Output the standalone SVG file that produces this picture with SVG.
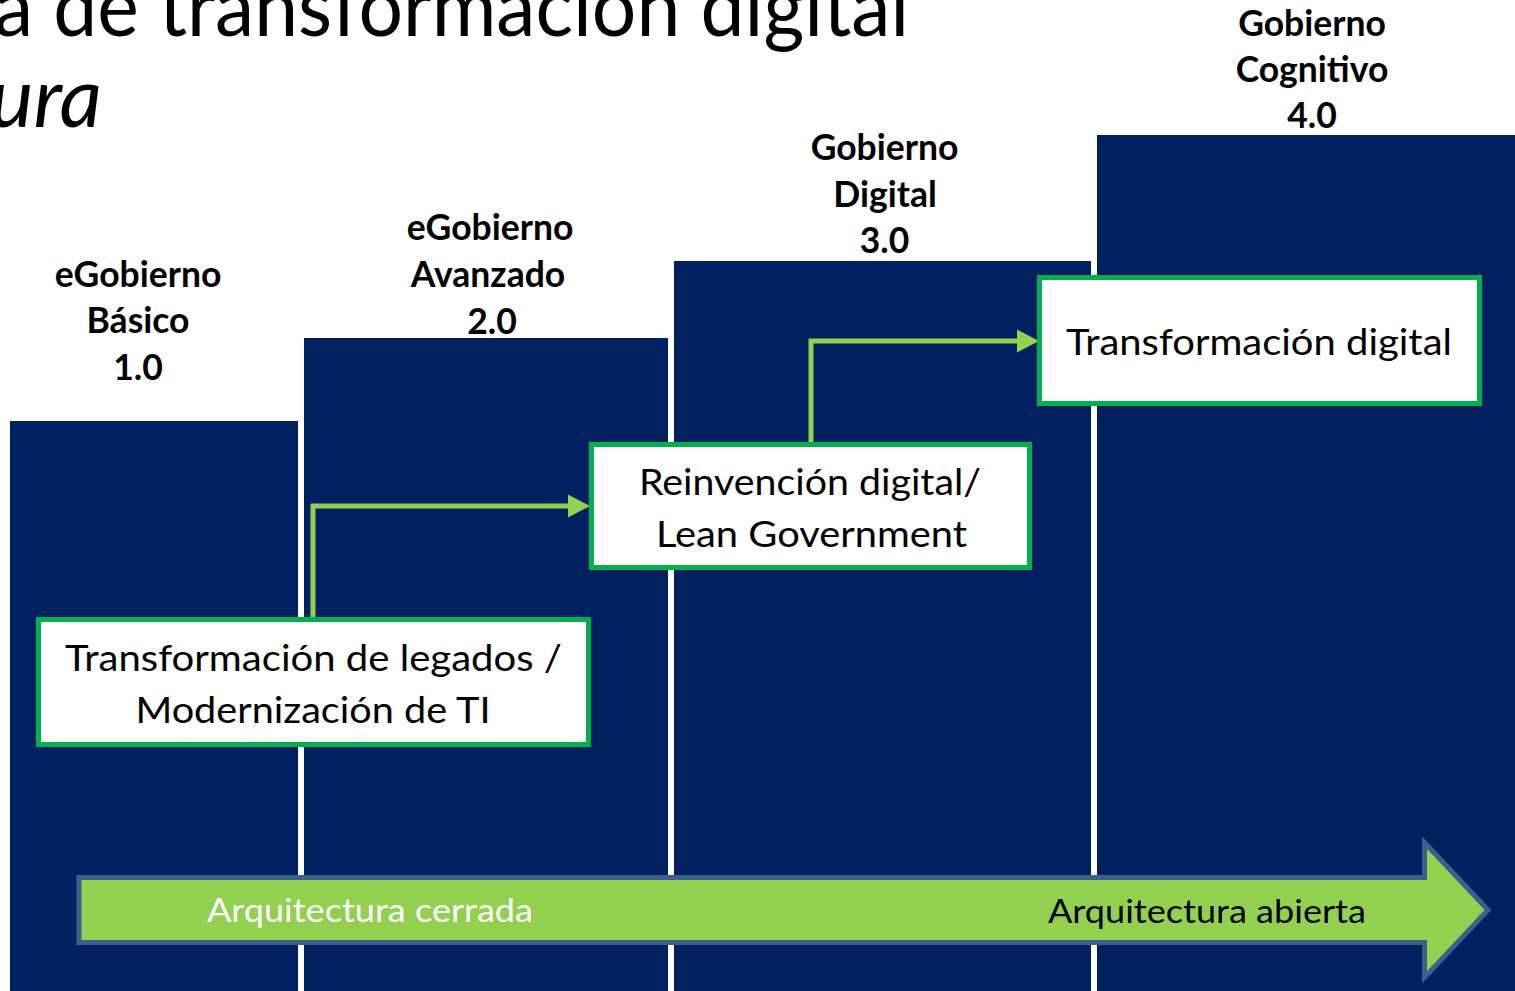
<svg xmlns="http://www.w3.org/2000/svg" width="1515" height="991" viewBox="0 0 1515 991">
<style>
.col{fill:#002060;}
.hdr{font-family:Lato,"Liberation Sans",sans-serif;font-weight:bold;font-size:35.5px;fill:#000;text-anchor:middle;}
.box{fill:#fff;stroke:#00B050;stroke-width:5;}
.bt{font-family:Lato,"Liberation Sans",sans-serif;font-size:37.5px;fill:#000;text-anchor:middle;}
.conn{fill:none;stroke:#92D050;stroke-width:5;}
.title{font-family:Lato,"Liberation Sans",sans-serif;font-size:83px;fill:#000;}
.at{font-family:Lato,"Liberation Sans",sans-serif;font-size:32px;text-anchor:middle;}
</style>
<defs>
<marker id="ah" markerUnits="userSpaceOnUse" markerWidth="24" markerHeight="24" refX="0" refY="11.5" orient="auto">
<path d="M0,0 L22,11.5 L0,23 Z" fill="#92D050"/>
</marker>
</defs>
<rect width="1515" height="991" fill="#fff"/>
<g id="title">
<text class="title" x="-6" y="36" textLength="915" lengthAdjust="spacingAndGlyphs">a de transformación digital</text>
<text class="title" x="102" y="127" font-style="italic" text-anchor="end">ura</text>
</g>
<g id="col1">
<rect class="col" x="10" y="421" width="288" height="570"/>
<text class="hdr" x="138" y="287">eGobierno</text>
<text class="hdr" x="138" y="333">Básico</text>
<text class="hdr" x="138" y="380">1.0</text>
</g>
<g id="col2">
<rect class="col" x="304" y="338" width="364" height="653"/>
<text class="hdr" x="490" y="240">eGobierno</text>
<text class="hdr" x="488" y="287">Avanzado</text>
<text class="hdr" x="492" y="334">2.0</text>
</g>
<g id="col3">
<rect class="col" x="674" y="261" width="417" height="730"/>
<text class="hdr" x="884.5" y="160">Gobierno</text>
<text class="hdr" x="885" y="207">Digital</text>
<text class="hdr" x="884.5" y="253">3.0</text>
</g>
<g id="col4">
<rect class="col" x="1097" y="135" width="418" height="856"/>
<text class="hdr" x="1312" y="36">Gobierno</text>
<text class="hdr" x="1312" y="82">Cognitivo</text>
<text class="hdr" x="1312" y="128">4.0</text>
</g>
<g id="arrow">
<path d="M79,877.5 H1424.5 V842.5 L1488,910 L1424.5,977.5 V942.5 H79 Z" fill="#92D050" stroke="#3E5F8E" stroke-width="5" stroke-linejoin="miter"/>
<text class="at" x="370" y="922" fill="#fff" textLength="326" lengthAdjust="spacingAndGlyphs">Arquitectura cerrada</text>
<text class="at" x="1207" y="923" fill="#000" textLength="318" lengthAdjust="spacingAndGlyphs">Arquitectura abierta</text>
</g>
<g id="connectors">
<path class="conn" d="M313,620 V506 H568" marker-end="url(#ah)"/>
<path class="conn" d="M811,445 V341 H1017" marker-end="url(#ah)"/>
</g>
<g id="boxA">
<rect class="box" x="38.5" y="619.5" width="550" height="125"/>
<text class="bt" x="313.5" y="671" textLength="497" lengthAdjust="spacingAndGlyphs">Transformación de legados /</text>
<text class="bt" x="313" y="723" textLength="355" lengthAdjust="spacingAndGlyphs">Modernización de TI</text>
</g>
<g id="boxB">
<rect class="box" x="591.5" y="444.5" width="438" height="123"/>
<text class="bt" x="810" y="495" textLength="342" lengthAdjust="spacingAndGlyphs">Reinvención digital/</text>
<text class="bt" x="811.5" y="547" textLength="311" lengthAdjust="spacingAndGlyphs">Lean Government</text>
</g>
<g id="boxC">
<rect class="box" x="1039.5" y="277.5" width="440" height="126"/>
<text class="bt" x="1259" y="355" textLength="386" lengthAdjust="spacingAndGlyphs">Transformación digital</text>
</g>
</svg>
